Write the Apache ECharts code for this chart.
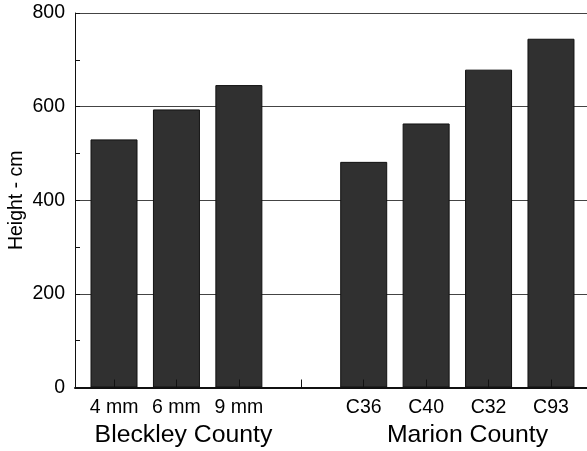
<!DOCTYPE html>
<html>
<head>
<meta charset="utf-8">
<script src="https://cdn.jsdelivr.net/npm/echarts@6/dist/echarts.min.js"></script>
<style>
html,body{margin:0;padding:0;background:#fff;}
#chart{width:587px;height:451px;}
</style>
</head>
<body>
<div id="chart"></div>
<script>
// Data
var categories = ['4 mm', '6 mm', '9 mm', '', 'C36', 'C40', 'C32', 'C93'];
var heights = [530, 594, 646, null, 482, 564, 679, 745];
var groups = ['Bleckley County', 'Marion County'];
var yTicks = [0, 200, 400, 600, 800];

var barData = [];
heights.forEach(function (v, i) { if (v !== null) barData.push([i + 1, v]); });
var catPositions = categories.map(function (c, i) { return i + 1; });
var groupPositions = [2.113, 6.663];

var font = 'Liberation Sans, Arial, Helvetica, sans-serif';
var chart = echarts.init(document.getElementById('chart'), null, {renderer: 'canvas'});
chart.setOption({
  animation: false,
  backgroundColor: '#ffffff',
  grid: {left: 75, right: 0, top: 13, bottom: 63.5, containLabel: false, outerBoundsMode: 'none'},
  xAxis: [{
    type: 'value', min: 0.375, max: 8.577,
    position: 'bottom',
    z: 3,
    axisLine: {show: true, onZero: false, lineStyle: {color: '#111', width: 2}},
    axisTick: {show: true, inside: true, length: 8, customValues: catPositions, lineStyle: {color: '#111', width: 1}},
    axisLabel: {
      show: true, customValues: catPositions, margin: 10,
      fontFamily: font, fontSize: 19.5, color: '#000',
      formatter: function (v) { return categories[Math.round(v) - 1] || ''; }
    },
    splitLine: {show: false}
  }, {
    type: 'value', min: 0.375, max: 8.577,
    position: 'bottom',
    axisLine: {show: false},
    axisTick: {show: false},
    axisLabel: {
      show: true, customValues: groupPositions, margin: 35,
      fontFamily: font, fontSize: 24.8, color: '#000',
      formatter: function (v) {
        var idx = groupPositions.indexOf(v);
        return idx >= 0 ? groups[idx] : '';
      }
    },
    splitLine: {show: false}
  }],
  yAxis: {
    type: 'value', min: 0, max: 800, interval: 200,
    name: 'Height - cm', nameLocation: 'middle', nameGap: 48, nameMoveOverlap: false,
    nameTextStyle: {fontFamily: font, fontSize: 19.5, color: '#000'},
    axisLine: {show: true, lineStyle: {color: '#111', width: 1}},
    axisTick: {show: true, inside: true, length: 5, lineStyle: {color: '#111'}},
    minorTick: {show: true, splitNumber: 2, length: 5, lineStyle: {color: '#111', width: 1}},
    axisLabel: {
      margin: 10, fontFamily: font, fontSize: 19.5, color: '#000',
      formatter: function (v) { return yTicks.indexOf(v) >= 0 ? String(v) : ''; }
    },
    splitLine: {show: true, lineStyle: {color: '#444', width: 1}}
  },
  series: [{
    type: 'bar',
    xAxisIndex: 0,
    data: barData,
    barWidth: 47,
    itemStyle: {color: '#303030', borderColor: '#111', borderWidth: 1}
  }]
});
</script>
</body>
</html>
